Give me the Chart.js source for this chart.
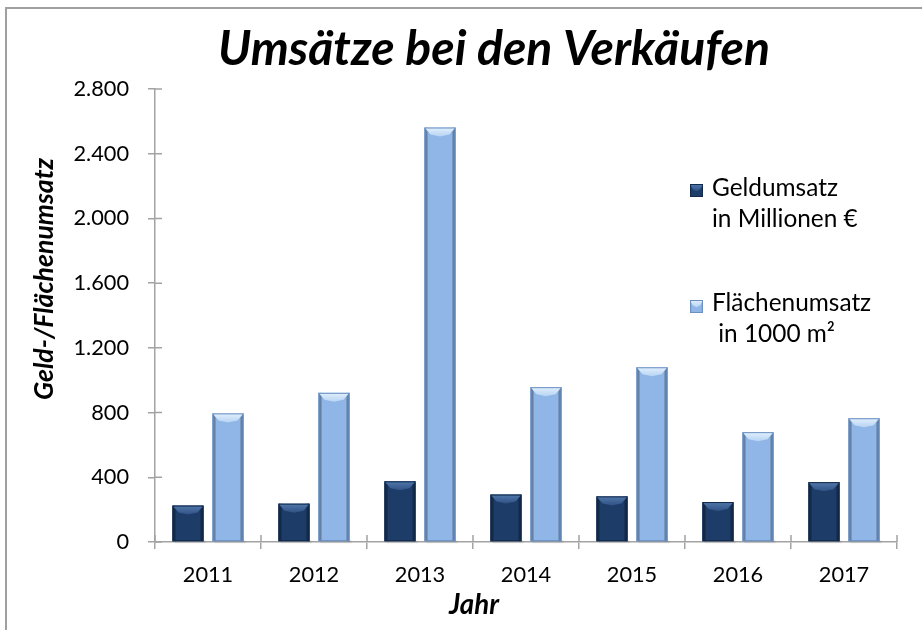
<!DOCTYPE html>
<html><head><meta charset="utf-8">
<script src="https://cdn.jsdelivr.net/npm/chart.js@4.4.0/dist/chart.umd.min.js"></script>
<style>html,body{margin:0;padding:0;background:#fff}canvas{display:block}</style>
</head><body>
<canvas id="c" width="922" height="630"></canvas>
<script>
// ---- data ----
const years = ['2011','2012','2013','2014','2015','2016','2017'];
const geldumsatz = [225, 237, 375, 293, 282, 247, 370];
const flaechenumsatz = [795, 922, 2562, 957, 1080, 679, 765];
const yTickValues = [0, 400, 800, 1200, 1600, 2000, 2400, 2800];
const legendLines = [['Geldumsatz', 'in Millionen €'], ['Flächenumsatz', ' in 1000 m²']];
const titleText = 'Umsätze bei den Verkäufen';
const yTitleText = 'Geld-/Flächenumsatz';
const xTitleText = 'Jahr';

// ---- styling ----
const FAM = 'Lato, "Open Sans", sans-serif';
const AXIS = '#a3a3a3';
const DARK = { body: '#1d3c68', edge: '#122a4c', cap: '#5278ab', capEdge: '#2f5285' };
const LIGHT = { body: '#8fb6e6', edge: '#6a8fc0', cap: '#e2f0fd', capEdge: '#b7d3f3' };

const mctx = document.createElement('canvas').getContext('2d');
function fit(text, target, style) {
  mctx.font = style + ' 100px ' + FAM;
  return 100 * target / mctx.measureText(text).width;
}
const tickSize = fit('2011', 50.5, 'normal');
const titleSize = fit(titleText, 552, 'italic bold');
const legendSize = fit('Geldumsatz', 126, 'normal');
const yTitleSize = fit(yTitleText, 242, 'italic bold');
const xTitleSize = fit(xTitleText, 50, 'italic bold');

function drawBarDeco(ctx, left, right, top, bottom, pal) {
  const w = right - left;
  // side shading
  const g = ctx.createLinearGradient(left, 0, right, 0);
  g.addColorStop(0, pal.edge);
  g.addColorStop(0.12, 'rgba(0,0,0,0)');
  g.addColorStop(0.88, 'rgba(0,0,0,0)');
  g.addColorStop(1, pal.edge);
  ctx.fillStyle = g;
  ctx.fillRect(left, top, w, bottom - top);
  // top bevel
  const b = Math.min(7, (bottom - top) * 0.4);
  const inset = Math.min(6, w * 0.2);
  ctx.beginPath();
  ctx.moveTo(left, top);
  ctx.lineTo(right, top);
  ctx.lineTo(right - inset, top + b);
  ctx.lineTo((left + right) / 2, top + b + 2);
  ctx.lineTo(left + inset, top + b);
  ctx.closePath();
  const cg = ctx.createLinearGradient(0, top, 0, top + b + 2);
  cg.addColorStop(0, pal.cap);
  cg.addColorStop(1, pal.capEdge);
  ctx.fillStyle = cg;
  ctx.fill();
  // outline
  ctx.strokeStyle = pal.edge;
  ctx.lineWidth = 1;
  ctx.strokeRect(left + 0.5, top + 0.5, w - 1, bottom - top - 1);
}

const decoPlugin = {
  id: 'deco',
  beforeDraw(chart) {
    const ctx = chart.ctx;
    ctx.save();
    ctx.fillStyle = '#fff';
    ctx.fillRect(0, 0, chart.width, chart.height);
    ctx.strokeStyle = '#a0a0a0';
    ctx.lineWidth = 2;
    ctx.beginPath();
    ctx.moveTo(6, chart.height);
    ctx.lineTo(6, 8);
    ctx.lineTo(chart.width, 8);
    ctx.stroke();
    ctx.restore();
  },
  afterDatasetsDraw(chart) {
    const ctx = chart.ctx;
    const pals = [DARK, LIGHT];
    ctx.save();
    chart.data.datasets.forEach((ds, di) => {
      const meta = chart.getDatasetMeta(di);
      meta.data.forEach(el => {
        const l = el.x - el.width / 2, r = el.x + el.width / 2;
        // soft shadow
        ctx.fillStyle = 'rgba(0,0,0,0.08)';
        ctx.fillRect(l + 2, el.base - 1, el.width, 3);
        drawBarDeco(ctx, l, r, el.y, el.base, pals[di]);
      });
    });
    ctx.restore();
  },
  afterDraw(chart) {
    const ctx = chart.ctx;
    const xs = chart.scales.x, ys = chart.scales.y;
    const ca = chart.chartArea;
    ctx.save();
    // inner halves of cross ticks
    ctx.strokeStyle = AXIS;
    ctx.lineWidth = 1.5;
    ctx.beginPath();
    ys.ticks.forEach(t => {
      const y = ys.getPixelForValue(t.value);
      ctx.moveTo(ca.left, y); ctx.lineTo(ca.left + 7, y);
    });
    for (let i = 0; i <= years.length; i++) {
      const x = xs.getPixelForValue(i - 0.5);
      ctx.moveTo(x, ca.bottom); ctx.lineTo(x, ca.bottom - 7);
    }
    ctx.stroke();

    ctx.fillStyle = '#000';
    // title
    ctx.font = 'italic bold ' + titleSize + 'px ' + FAM;
    ctx.textAlign = 'center';
    ctx.textBaseline = 'alphabetic';
    ctx.fillText(titleText, 494, 65);
    // x title
    ctx.font = 'italic bold ' + xTitleSize + 'px ' + FAM;
    ctx.fillText(xTitleText, 474, 614);
    // y title
    ctx.save();
    ctx.translate(53, 279);
    ctx.rotate(-Math.PI / 2);
    ctx.font = 'italic bold ' + yTitleSize + 'px ' + FAM;
    ctx.fillText(yTitleText, 0, 0);
    ctx.restore();

    // legend
    const pals = [DARK, LIGHT];
    const markerY = [184, 300];
    const baselines = [[196, 227], [311, 342]];
    chart.data.datasets.forEach((ds, i) => {
      ctx.fillStyle = pals[i].body;
      ctx.fillRect(690, markerY[i], 13, 13);
      drawBarDeco(ctx, 690, 703, markerY[i], markerY[i] + 13, pals[i]);
      ctx.fillStyle = '#000';
      ctx.font = legendSize + 'px ' + FAM;
      ctx.textAlign = 'left';
      ctx.fillText(legendLines[i][0], 712, baselines[i][0]);
      ctx.fillText(legendLines[i][1], 712, baselines[i][1]);
    });
    ctx.restore();
  }
};

new Chart(document.getElementById('c'), {
  type: 'bar',
  data: {
    labels: years,
    datasets: [
      { label: legendLines[0].join(' '), data: geldumsatz, backgroundColor: DARK.body, borderWidth: 0 },
      { label: legendLines[1].join(' '), data: flaechenumsatz, backgroundColor: LIGHT.body, borderWidth: 0 }
    ]
  },
  options: {
    responsive: false,
    animation: false,
    devicePixelRatio: 1,
    categoryPercentage: 0.755,
    barPercentage: 0.775,
    layout: { padding: { top: 89, right: 25, left: 0, bottom: 0 } },
    plugins: { legend: { display: false }, title: { display: false }, tooltip: { enabled: false } },
    scales: {
      x: {
        grid: { offset: true, drawOnChartArea: false, drawTicks: true, tickLength: 7, color: AXIS, lineWidth: 1.5 },
        border: { color: AXIS, width: 1.5 },
        ticks: { color: '#000', font: { family: FAM, size: tickSize }, padding: 13, maxRotation: 0 },
        afterFit(s) { s.height = 88; }
      },
      y: {
        min: 0, max: 2800,
        afterBuildTicks(s) { s.ticks = yTickValues.map(v => ({ value: v })); },
        grid: { drawOnChartArea: false, drawTicks: true, tickLength: 7, color: AXIS, lineWidth: 1.5 },
        border: { color: AXIS, width: 1.5 },
        ticks: {
          color: '#000', font: { family: FAM, size: tickSize }, padding: 19,
          callback: v => v.toLocaleString('de-DE')
        },
        afterFit(s) { s.width = 155; }
      }
    }
  },
  plugins: [decoPlugin]
});
</script>
</body></html>
